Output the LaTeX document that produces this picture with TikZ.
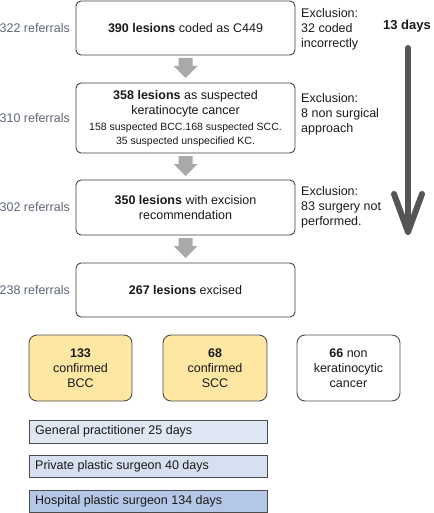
\documentclass[tikz,border=0pt]{standalone}
\usepackage{fontspec}
\setmainfont{Liberation Sans}
\begin{document}
\begin{tikzpicture}[x=1pt,y=-1pt,
  box/.style={draw=black!75, line width=0.9pt, rounded corners=5pt, fill=white},
  ybox/.style={draw=black!70, line width=0.9pt, rounded corners=8pt, fill=boxyellow},
  wbox/.style={draw=black!70, line width=0.9pt, rounded corners=8pt, fill=white},
  bar/.style={draw=black!70, line width=0.8pt},
  reftxt/.style={anchor=east, text=refgray, font=\fontsize{12.5}{15}\selectfont, inner sep=0pt},
  exctxt/.style={anchor=north west, align=left, font=\fontsize{12.5}{15}\selectfont, inner sep=0pt, text=txt},
  main/.style={align=center, font=\fontsize{12.5}{15}\selectfont, inner sep=0pt, text=txt},
  small/.style={align=center, font=\fontsize{10.5}{14}\selectfont, inner sep=0pt, text=txt},
  bartxt/.style={anchor=west, font=\fontsize{12.5}{15}\selectfont, inner sep=0pt, text=txt},
  garrow/.style={fill=arrgray, draw=none},
  bigarrow/.style={draw=bigarr, line width=6pt, line cap=round, line join=round}
]
\definecolor{refgray}{HTML}{5E6676}
\definecolor{txt}{HTML}{1A1A1A}
\definecolor{boxyellow}{HTML}{FDE7A3}
\definecolor{arrgray}{HTML}{A9A9A9}
\definecolor{bigarr}{HTML}{555555}
\definecolor{bar1}{HTML}{DEE7F3}
\definecolor{bar2}{HTML}{D6E0F0}
\definecolor{bar3}{HTML}{B4C7E7}
\useasboundingbox (0,0) rectangle (433,513);

% main boxes
\draw[box] (76,1) rectangle (295,55);
\node[main] (b1) at (185.5,28) {\textbf{390 lesions} coded as C449};
\draw[box] (76,83) rectangle (295,153);
\node[main] (b2a) at (185.5,104) {\textbf{358 lesions} as suspected\\keratinocyte cancer};
\node[small] (b2b) at (185.5,135) {158 suspected BCC.168 suspected SCC.\\35 suspected unspecified KC.};
\draw[box] (76,180) rectangle (295,235);
\node[main] (b3) at (185.5,207.5) {\textbf{350 lesions} with excision\\recommendation};
\draw[box] (76,263) rectangle (295,317);
\node[main] (b4) at (185.5,290) {\textbf{267 lesions} excised};

% referrals
\node[reftxt] (r1) at (70,28) {322 referrals};
\node[reftxt] (r2) at (70,118) {310 referrals};
\node[reftxt] (r3) at (70,207.5) {302 referrals};
\node[reftxt] (r4) at (70,290) {238 referrals};

% exclusions
\node[exctxt] (e1) at (301,8) {Exclusion:\\32 coded\\incorrectly};
\node[exctxt] (e2) at (301,93) {Exclusion:\\8 non surgical\\approach};
\node[exctxt] (e3) at (301,186) {Exclusion:\\83 surgery not\\performed.};

% gray arrows
\foreach \t in {58,156,238}{
  \fill[garrow] (178.5,\t) -- (192.5,\t) -- (192.5,\t+8) -- (197.5,\t+8) -- (185.5,\t+20) -- (173.5,\t+8) -- (178.5,\t+8) -- cycle;
}

% big arrow
\node[font=\bfseries\fontsize{13}{15}\selectfont, text=txt, inner sep=0pt] (days) at (407,26) {13 days};
\coordinate (bt) at (408,48);
\coordinate (bb) at (408,232);
\draw[bigarrow] (bt) -- (bb);
\draw[bigarrow] (394,194) -- (bb) -- (422,194);

% outcome boxes
\draw[ybox] (29,335) rectangle (132,401);
\node[main] (o1) at (80.5,368) {\textbf{133}\\confirmed\\BCC};
\draw[ybox] (163,335) rectangle (267,401);
\node[main] (o2) at (215,368) {\textbf{68}\\confirmed\\SCC};
\draw[wbox] (297,335) rectangle (400,401);
\node[main] (o3) at (348.5,368) {\textbf{66} non\\keratinocytic\\cancer};

% bars
\draw[bar, fill=bar1] (29,420) rectangle (267,443);
\node[bartxt] (g1) at (35,431.5) {General practitioner 25 days};
\draw[bar, fill=bar2] (29,455) rectangle (267,477);
\node[bartxt] (g2) at (35,466) {Private plastic surgeon 40 days};
\draw[bar, fill=bar3] (29,490) rectangle (267,512.5);
\node[bartxt] (g3) at (35,501) {Hospital plastic surgeon 134 days};
\end{tikzpicture}
\end{document}
